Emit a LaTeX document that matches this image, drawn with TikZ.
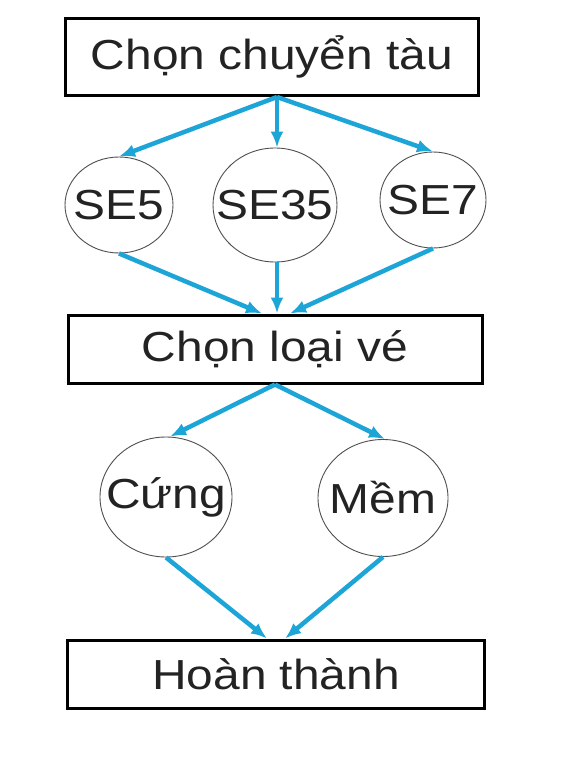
\documentclass[tikz,border=0pt]{standalone}
\usepackage{fontspec}
\setmainfont{Liberation Sans}
\newfontfamily\diafont[FakeStretch=1.14]{Liberation Sans}
\usetikzlibrary{shapes.geometric,arrows.meta}
\definecolor{flow}{RGB}{30,165,215}
\definecolor{ink}{RGB}{35,35,35}
\newcommand{\zw}[1]{\makebox[0pt][c]{#1}}
\tikzset{
  stepbox/.style={draw=black,line width=3pt,rectangle,inner sep=0pt,text=ink,
    font=\diafont\fontsize{42}{50}\selectfont},
  choice/.style={draw=ink!80,line width=0.9pt,ellipse,inner sep=0pt,text=ink,
    font=\diafont\fontsize{42}{50}\selectfont},
  flowarrow/.style={draw=flow,line width=4.5pt,
    -{Latex[length=16pt,width=13pt]}}
}
\begin{document}
\begin{tikzpicture}[x=1pt,y=-1pt]
\useasboundingbox[fill=white] (0,0) rectangle (565,765);
\node[stepbox,minimum width=413pt,minimum height=77pt] (b1) at (272,57) {Chọn chuyển tàu};
\node[choice,minimum width=108pt,minimum height=96pt] (se5) at (119,205) {\zw{SE5}};
\node[choice,minimum width=124pt,minimum height=114pt] (se35) at (275,205) {\zw{SE35}};
\node[choice,minimum width=106pt,minimum height=96pt] (se7) at (433,200) {\zw{SE7}};
\node[stepbox,minimum width=414pt,minimum height=68pt] (b2) at (275,349) {Chọn loại vé};
\node[choice,minimum width=132pt,minimum height=120pt] (cung) at (166,497) {\zw{Cứng}};
\node[choice,minimum width=130pt,minimum height=117pt] (mem) at (383,498) {\zw{Mềm}};
\node[stepbox,minimum width=417pt,minimum height=68pt] (b3) at (276,674) {Hoàn thành};

\draw[flowarrow] ([xshift=5pt]b1.south) -- (se5.north);
\draw[flowarrow] ([xshift=5pt]b1.south) -- ([xshift=2pt]se35.north);
\draw[flowarrow] ([xshift=5pt]b1.south) -- (se7.north);

\draw[flowarrow] (se5.south) -- ([xshift=-13pt]b2.north);
\draw[flowarrow] ([xshift=2pt]se35.south) -- ([xshift=2pt]b2.north);
\draw[flowarrow] (se7.south) -- ([xshift=15pt]b2.north);

\draw[flowarrow] (b2.south) -- ([xshift=4pt]cung.north);
\draw[flowarrow] (b2.south) -- ([xshift=2pt]mem.north);

\draw[flowarrow] (cung.south) -- ([xshift=-9pt]b3.north);
\draw[flowarrow] (mem.south) -- ([xshift=9pt]b3.north);
\end{tikzpicture}
\end{document}
